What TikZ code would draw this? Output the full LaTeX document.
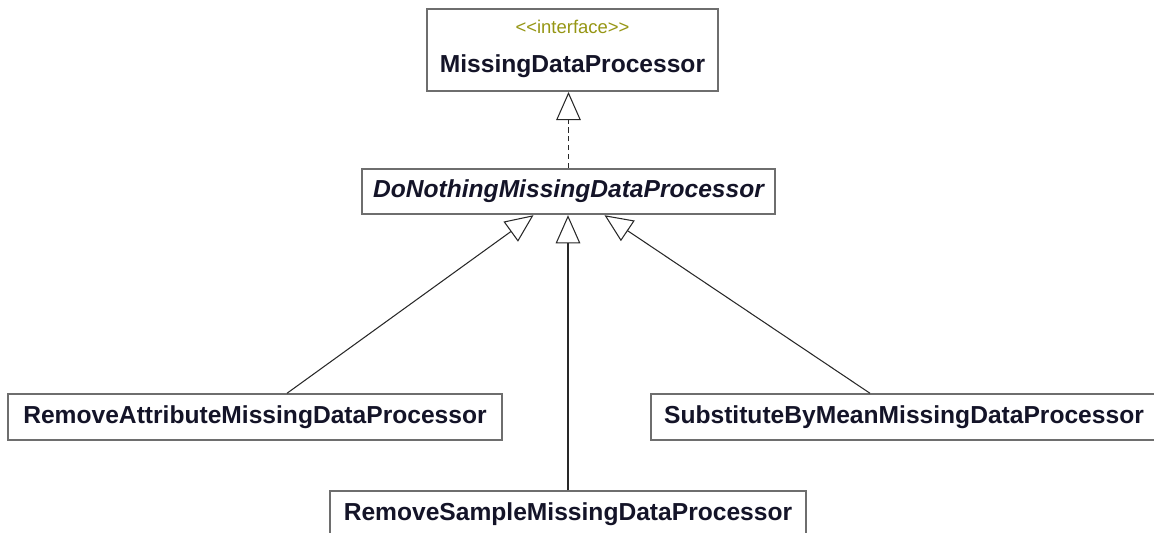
\documentclass[tikz,border=0pt]{standalone}
\usepackage{fontspec}
\setmainfont{Liberation Sans}
\usepackage{tikz}
\usetikzlibrary{arrows.meta, calc, positioning}
\definecolor{myframe}{RGB}{110,110,110}
\definecolor{mydark}{RGB}{40,40,40}
\definecolor{myolive}{RGB}{150,150,20}
\definecolor{mytext}{RGB}{20,20,40}
\newcommand{\stereotext}[1]{{\fontsize{10.5}{13}\selectfont\mdseries\color{myolive}<\kern0pt<#1>\kern0pt>}}
\tikzset{
  classbox/.style={rectangle, draw=myframe, fill=white, line width=1.1pt,
    font=\fontsize{14}{16}\selectfont\bfseries, text=mytext,
    align=center, inner sep=0pt, minimum height=0.91cm},
  ifacebox/.style={classbox, minimum width=5.82cm, minimum height=1.64cm},
  realize/.style={-{Triangle[open, length=16pt, width=14pt]}, line width=0.6pt,
    color=mydark, dash pattern=on 3pt off 2pt},
  inherit/.style={-{Triangle[open, length=16pt, width=14pt]}, line width=0.6pt,
    color=mydark}
}

\begin{document}
\begin{tikzpicture}[x=0.02cm, y=-0.02cm]
  \useasboundingbox (0,0) rectangle (1154,533);

  % Interface
  \node[ifacebox, text depth=4pt] (iface) at (572.5,50)
    {\stereotext{interface}\\[6.5pt]MissingDataProcessor};

  % Abstract base
  \node[classbox, minimum width=8.26cm, font=\fontsize{14}{16}\selectfont\bfseries\itshape]
    (nothing) at (568.5,191.5) {DoNothingMissingDataProcessor};

  % Concrete processors
  \node[classbox, minimum width=9.88cm] (removeattr) at (255,417)
    {RemoveAttributeMissingDataProcessor};
  \node[classbox, minimum width=10.12cm] (substitute) at (904,417)
    {SubstituteByMeanMissingDataProcessor};
  \node[classbox, minimum width=9.52cm] (removesample) at (568,514)
    {RemoveSampleMissingDataProcessor};

  % Realization
  \draw[realize] (nothing.north) -- (nothing.north |- iface.south);

  % Generalizations
  \draw[inherit] ($(removeattr.north)+(32,0)$) -- ($(nothing.south)+(-35,0)$);
  \draw[inherit] (removesample.north) -- (removesample.north |- nothing.south);
  \draw[inherit] ($(substitute.north)+(-34,0)$) -- ($(nothing.south)+(36,0)$);
\end{tikzpicture}
\end{document}
